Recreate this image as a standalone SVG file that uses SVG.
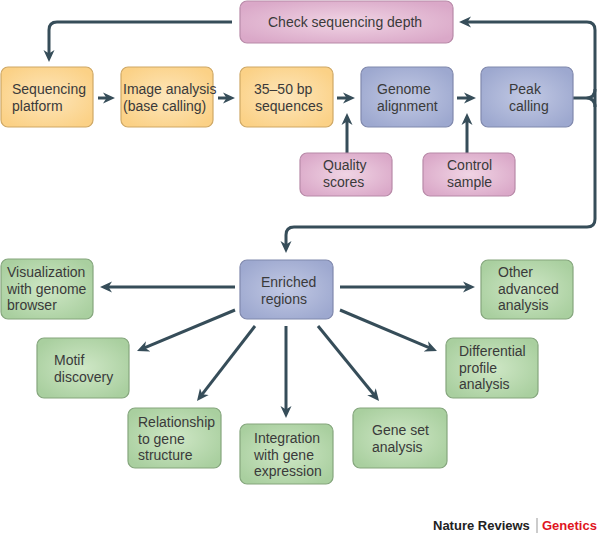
<svg xmlns="http://www.w3.org/2000/svg" width="600" height="534" viewBox="0 0 600 534">
<style>
.box{stroke-width:1.2}
.or{fill:url(#gOr);stroke:#cfa865}
.bl{fill:url(#gBl);stroke:#8089ad}
.pk{fill:url(#gPk);stroke:#b88aa8}
.gr{fill:url(#gGr);stroke:#85a67d}
text{font-family:"Liberation Sans",Arial,sans-serif;font-size:14px;fill:#3a3a3a}
.ln{fill:none;stroke:#364d59;stroke-width:3}
.ar{marker-end:url(#ah)}
</style>
<defs>
<radialGradient id="gOr" cx="0.5" cy="0.5" r="0.6"><stop offset="0" stop-color="#fde6bb"/><stop offset="1" stop-color="#fbd186"/></radialGradient>
<radialGradient id="gBl" cx="0.5" cy="0.5" r="0.6"><stop offset="0" stop-color="#c2c9e4"/><stop offset="1" stop-color="#9da8cf"/></radialGradient>
<radialGradient id="gPk" cx="0.5" cy="0.5" r="0.6"><stop offset="0" stop-color="#f0d4e4"/><stop offset="1" stop-color="#daa8c8"/></radialGradient>
<radialGradient id="gGr" cx="0.5" cy="0.5" r="0.6"><stop offset="0" stop-color="#cfe7c6"/><stop offset="1" stop-color="#a9cf9f"/></radialGradient>
<marker id="ah" viewBox="0 0 12 12" markerWidth="12" markerHeight="12" markerUnits="userSpaceOnUse" refX="4" refY="6" orient="auto">
<path d="M0,0.5 L12,6 L0,11.5 L3.5,6 z" fill="#364d59"/>
</marker>
</defs>

<g id="connectors">
<path class="ln ar" d="M232,22 H57 Q49,22 49,30 V54"/>
<path class="ln ar" d="M98,98 H107"/>
<path class="ln ar" d="M218,98 H227"/>
<path class="ln ar" d="M337,98 H347"/>
<path class="ln ar" d="M457,98 H468"/>
<path class="ln ar" d="M347,153 V121"/>
<path class="ln ar" d="M467,153 V121"/>
<path class="ln ar" d="M595,30 Q595,22 587,22 H467"/>
<path class="ln ar" d="M595,30 V219 Q595,227 587,227 H294 Q286,227 286,235 V245"/>
<path class="ln" d="M573,98 H586 Q595,98 595,89 M586,98 Q595,98 595,107"/>
<path class="ln ar" d="M235,287 H108"/>
<path class="ln ar" d="M340,287 H467"/>
<path class="ln ar" d="M235,310 L144.4,347.9"/>
<path class="ln ar" d="M255,326 L201.9,394.7"/>
<path class="ln ar" d="M286,326 V410"/>
<path class="ln ar" d="M318,326 L374,394.8"/>
<path class="ln ar" d="M340,310 L429.6,347.9"/>
</g>

<g id="check-depth"><rect class="box pk" x="240" y="1" width="213" height="42" rx="7"/><text x="268" y="27">Check sequencing depth</text></g>
<g id="seq-platform"><rect class="box or" x="1" y="67" width="92" height="60" rx="7"/><text x="12" y="94">Sequencing</text><text x="12" y="110.5">platform</text></g>
<g id="image-analysis"><rect class="box or" x="121" y="67" width="92" height="60" rx="7"/><text x="123" y="94">Image analysis</text><text x="123" y="110.5">(base calling)</text></g>
<g id="sequences"><rect class="box or" x="240" y="67" width="93" height="60" rx="7"/><text x="254" y="94">35–50 bp</text><text x="255" y="110.5">sequences</text></g>
<g id="genome-alignment"><rect class="box bl" x="361" y="67" width="92" height="60" rx="7"/><text x="377" y="94">Genome</text><text x="377" y="110.5">alignment</text></g>
<g id="peak-calling"><rect class="box bl" x="481" y="67" width="92" height="60" rx="7"/><text x="509" y="94">Peak</text><text x="509" y="110.5">calling</text></g>
<g id="quality-scores"><rect class="box pk" x="300" y="153" width="92" height="43" rx="7"/><text x="323" y="170">Quality</text><text x="323" y="186.5">scores</text></g>
<g id="control-sample"><rect class="box pk" x="423" y="153" width="92" height="43" rx="7"/><text x="447" y="170">Control</text><text x="447" y="186.5">sample</text></g>
<g id="enriched-regions"><rect class="box bl" x="240" y="260" width="93" height="59" rx="7"/><text x="261" y="287">Enriched</text><text x="261" y="303.5">regions</text></g>
<g id="visualization"><rect class="box gr" x="1" y="259" width="92" height="60" rx="7"/><text x="7" y="277">Visualization</text><text x="7" y="293.5">with genome</text><text x="7" y="310">browser</text></g>
<g id="other-advanced"><rect class="box gr" x="481" y="260" width="92" height="59" rx="7"/><text x="498" y="277">Other</text><text x="498" y="293.5">advanced</text><text x="498" y="310">analysis</text></g>
<g id="motif-discovery"><rect class="box gr" x="37" y="338" width="92" height="60" rx="7"/><text x="54" y="365">Motif</text><text x="54" y="381.5">discovery</text></g>
<g id="relationship"><rect class="box gr" x="128" y="408" width="93" height="60" rx="7"/><text x="138" y="427">Relationship</text><text x="138" y="443.5">to gene</text><text x="138" y="460">structure</text></g>
<g id="integration"><rect class="box gr" x="240" y="424" width="93" height="60" rx="7"/><text x="254" y="443">Integration</text><text x="254" y="459.5">with gene</text><text x="254" y="476">expression</text></g>
<g id="gene-set"><rect class="box gr" x="353" y="408" width="94" height="60" rx="7"/><text x="372" y="435">Gene set</text><text x="372" y="451.5">analysis</text></g>
<g id="differential"><rect class="box gr" x="446" y="338" width="92" height="60" rx="7"/><text x="459" y="356">Differential</text><text x="459" y="372.5">profile</text><text x="459" y="389">analysis</text></g>

<g id="credit">
<text x="433" y="530" style="font-size:13px;font-weight:bold;fill:#222">Nature Reviews</text>
<line x1="537" y1="518" x2="537" y2="533" stroke="#999" stroke-width="1"/>
<text x="542" y="530" style="font-size:13px;font-weight:bold;fill:#e0141e">Genetics</text>
</g>
</svg>
